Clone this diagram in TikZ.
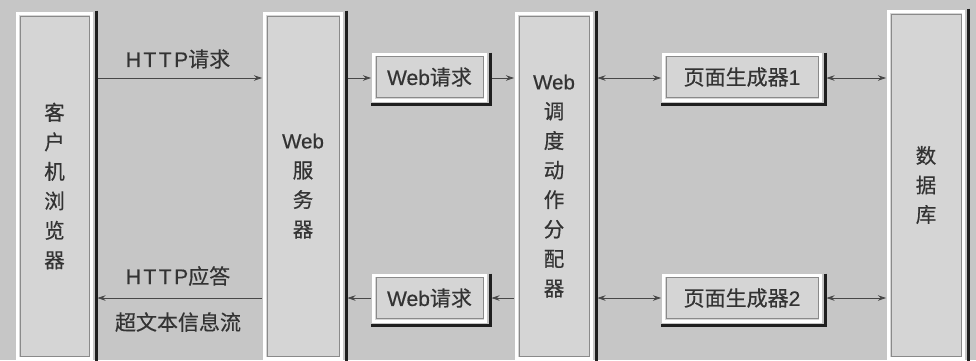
\documentclass[tikz,border=0pt]{standalone}
\usepackage{fontspec}
\setmainfont{Noto Sans CJK SC}[FakeBold=0.5]
\newfontfamily\lat{Liberation Sans}[FakeBold=0.5]
\newfontfamily\latsp{Liberation Sans}[FakeBold=0.5,LetterSpace=12]
\usetikzlibrary{arrows.meta}
\definecolor{bg}{HTML}{C6C6C6}
\definecolor{boxfill}{HTML}{D5D5D5}
\definecolor{ink}{HTML}{333333}
\definecolor{innerc}{HTML}{8A8A8A}
\definecolor{arrowc}{HTML}{474747}
\tikzset{
 panel/.style={draw=white, line width=3pt, fill=boxfill, inner sep=0pt, text=ink,
   font=\fontsize{20.5}{29.5}\selectfont, align=center,
   path picture={\draw[innerc, line width=0.7pt]
     ([shift={(2.6pt,-2.6pt)}]path picture bounding box.north west) rectangle
     ([shift={(-2.6pt,2.6pt)}]path picture bounding box.south east);}},
 smallbox/.style={panel, font=\fontsize{21}{22}\selectfont},
 shadeline/.style={draw=black!88, line width=3pt},
 arr/.style={draw=arrowc, line width=0.8pt, -{Stealth[length=8pt,width=5.5pt]}},
 darr/.style={draw=arrowc, line width=0.8pt, {Stealth[length=8pt,width=5.5pt]}-{Stealth[length=8pt,width=5.5pt]}},
 lbl/.style={text=ink, font=\fontsize{21}{22}\selectfont, inner sep=0pt},
}
\begin{document}
\begin{tikzpicture}[x=1pt,y=-1pt]
\clip (0,0) rectangle (976,360);
\fill[bg] (0,0) rectangle (976,360);
% tall panels
\node[panel, minimum width=74pt, minimum height=345pt] (client) at (54.5,186) {客\\户\\机\\浏\\览\\器};
\node[panel, minimum width=77pt, minimum height=345pt] (web) at (303,186) {{\lat Web}\\服\\务\\器};
\node[panel, minimum width=75pt, minimum height=345pt] (disp) at (554,186) {{\lat Web}\\调\\度\\动\\作\\分\\配\\器};
\node[panel, minimum width=75pt, minimum height=347pt] (db) at (926,185) {数\\据\\库};
\foreach \n in {client,web,disp,db}
  \draw[shadeline] ([shift={(3pt,1.5pt)}]\n.north east) -- ([shift={(3pt,-1.5pt)}]\n.south east);
% small boxes
\node[smallbox, minimum width=112pt, minimum height=46pt] (req1) at (429.5,77) {{\lat Web}请求};
\node[smallbox, minimum width=112pt, minimum height=46pt] (req2) at (429.5,298) {{\lat Web}请求};
\node[smallbox, minimum width=157pt, minimum height=46pt] (gen1) at (742,77) {页面生成器{\lat 1}};
\node[smallbox, minimum width=157pt, minimum height=46pt] (gen2) at (742,298) {页面生成器{\lat 2}};
\foreach \n in {req1,req2,gen1,gen2}
  \draw[shadeline] ([shift={(3pt,0pt)}]\n.north east) -- ([shift={(3pt,-3pt)}]\n.south east) -- ([shift={(-1.5pt,-3pt)}]\n.south west);
% rows
\coordinate (ya) at (0,78);
\coordinate (yb) at (0,298);
% left side
\draw[arr] ([xshift=4.5pt]client.east |- ya) -- ([xshift=-1pt]web.west |- ya);
\draw[arr] ([xshift=-1pt]web.west |- yb) -- ([xshift=4.5pt]client.east |- yb);
\node[lbl] (lreq) at (178,59) {{\latsp HTTP}请求};
\node[lbl] (lresp) at (178,276) {{\latsp HTTP}应答};
\node[lbl] (lflow) at (178,322) {超文本信息流};
% web server <-> dispatcher via request boxes
\draw[arr] ([xshift=4.5pt]web.east |- ya) -- ([xshift=-1pt]req1.west |- ya);
\draw[arr] ([xshift=4.5pt]req1.east |- ya) -- ([xshift=-1pt]disp.west |- ya);
\draw[arr] ([xshift=-1pt]disp.west |- yb) -- ([xshift=4.5pt]req2.east |- yb);
\draw[arr] ([xshift=-1pt]req2.west |- yb) -- ([xshift=4.5pt]web.east |- yb);
% dispatcher <-> generators <-> database
\draw[darr] ([xshift=4.5pt]disp.east |- ya) -- ([xshift=-1pt]gen1.west |- ya);
\draw[darr] ([xshift=4.5pt]disp.east |- yb) -- ([xshift=-1pt]gen2.west |- yb);
\draw[darr] ([xshift=4.5pt]gen1.east |- ya) -- ([xshift=-1pt]db.west |- ya);
\draw[darr] ([xshift=4.5pt]gen2.east |- yb) -- ([xshift=-1pt]db.west |- yb);
\end{tikzpicture}
\end{document}
